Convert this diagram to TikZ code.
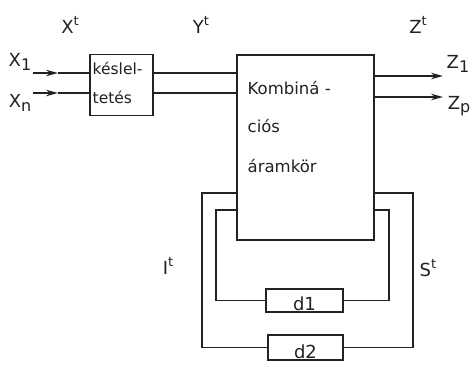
\documentclass[tikz,border=0pt]{standalone}
\usepackage{fontspec}
\setmainfont{DejaVu Sans}
\usetikzlibrary{arrows.meta}
\definecolor{ink}{HTML}{222222}
\newcommand{\supt}[1]{\raisebox{0.75ex}{\fontsize{13}{13}\selectfont #1}}
\newcommand{\subx}[1]{\raisebox{-0.35ex}{\fontsize{16}{16}\selectfont #1}}
\begin{document}
\begin{tikzpicture}[x=1pt, y=-1pt, line width=1.4pt, draw=ink, text=ink,
  boxstyle/.style={draw=ink, line width=1.6pt, inner sep=0pt, outer sep=0pt},
  lbl/.style={font=\fontsize{18}{20}\selectfont, inner sep=0pt},
  ahead/.style={-{Stealth[length=12pt,width=6.5pt]}}]
\fill[white] (0,0) rectangle (472,369);
\useasboundingbox (0,0) rectangle (472,369);
% boxes
\node[boxstyle, minimum width=63, minimum height=61] (delay) at (121.5,85) {};
\node[boxstyle, minimum width=137, minimum height=185] (main) at (305.5,147.5) {};
\node[boxstyle, minimum width=77, minimum height=23] (d1) at (304.5,300.5) {};
\node[boxstyle, minimum width=75, minimum height=25] (d2) at (305.5,347.5) {};
% box texts
\node[lbl, anchor=base west, font=\fontsize{15.5}{17}\selectfont] (t1) at (92,75) {késlel-};
\node[lbl, anchor=base west, font=\fontsize{15.5}{17}\selectfont] (t2) at (92,104) {tetés};
\node[lbl, anchor=base west, font=\fontsize{16.5}{18}\selectfont] (k1) at (247,95) {Kombiná -};
\node[lbl, anchor=base west, font=\fontsize{16.5}{18}\selectfont] (k2) at (247,133) {ciós};
\node[lbl, anchor=base west, font=\fontsize{16.5}{18}\selectfont] (k3) at (247,172) {áramkör};
\node[lbl, anchor=base] (d1t) at (304.5,310) {d1};
\node[lbl, anchor=base] (d2t) at (305.5,358) {d2};
% outer labels
\node[lbl] (xt) at (70,25) {X\supt{t}};
\node[lbl] (yt) at (201,25) {Y\supt{t}};
\node[lbl] (zt) at (418,25) {Z\supt{t}};
\node[lbl] (x1) at (20,62) {X\subx{1}};
\node[lbl] (xn) at (20,103) {X\subx{n}};
\node[lbl] (z1) at (458,64) {Z\subx{1}};
\node[lbl] (zp) at (459,106) {Z\subx{p}};
\node[lbl] (it) at (168,266) {I\supt{t}};
\node[lbl] (st) at (428,268) {S\supt{t}};
% coordinates
\coordinate (in1) at (33,73);
\coordinate (inn) at (33,93);
\coordinate (a1) at (58,73);
\coordinate (an) at (58,93);
\coordinate (out1) at (443,76);
\coordinate (outp) at (443,97);
\coordinate (fb2) at (0,193);
\coordinate (fb1) at (0,210);
\coordinate (l2) at (202,193);
\coordinate (r2) at (413,193);
\coordinate (l1) at (216,210);
\coordinate (r1) at (389,210);
% inputs
\draw[ahead] (in1) -- (a1);
\draw[ahead] (inn) -- (an);
\draw (a1) -- (a1 -| delay.west);
\draw (an) -- (an -| delay.west);
\draw (in1 -| delay.east) -- (in1 -| main.west);
\draw (inn -| delay.east) -- (inn -| main.west);
% outputs
\draw[ahead] (out1 -| main.east) -- (out1);
\draw[ahead] (outp -| main.east) -- (outp);
% feedback
\draw (fb2 -| main.west) -- (l2) |- (d2.west);
\draw (d2.east) -| (r2) -- (fb2 -| main.east);
\draw (fb1 -| main.west) -- (l1) |- (d1.west);
\draw (d1.east) -| (r1) -- (fb1 -| main.east);
\end{tikzpicture}
\end{document}
